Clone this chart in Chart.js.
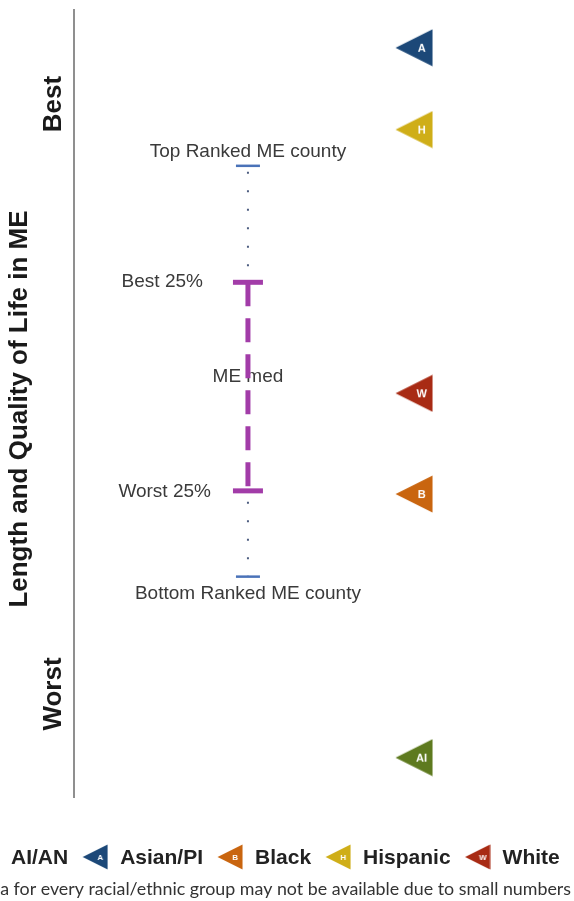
<!DOCTYPE html>
<html>
<head>
<meta charset="utf-8">
<script src="https://cdn.jsdelivr.net/npm/chart.js@4.4.1/dist/chart.umd.min.js"></script>
<style>
  html, body { margin: 0; padding: 0; background: #fff; overflow: hidden; }
  #wrap { width: 574px; height: 901px; }
</style>
</head>
<body>
<div id="wrap"><canvas id="chart" width="574" height="901"></canvas></div>
<script>
// racial/ethnic groups (rank score: 0 = best, 100 = worst)
const groups = ['AI/AN', 'Asian/PI', 'Black', 'Hispanic', 'White'];
const groupCodes = ['AI', 'A', 'B', 'H', 'W'];
const groupScores = [95.0, 4.8, 61.5, 15.2, 48.7];

// state (Maine) county distribution
const stateLabels = ['Top Ranked ME county', 'Best 25%', 'ME med', 'Worst 25%', 'Bottom Ranked ME county'];
const stateValues = [19.8, 34.6, 46.6, 61.1, 72.0];

const axisLabels = ['Best', 'Worst'];
const axisTitle = 'Length and Quality of Life in ME';
const footnote = 'Data for every racial/ethnic group may not be available due to small numbers';

const groupColors = ['#5e7a1f', '#1c4878', '#c9650f', '#cfae18', '#a82b14'];
const RANGE_X = 35.5;
const GROUP_X = 69.4;

// left-pointing triangle with a small letter
function makeMarker(color, code, size) {
    let c = document.createElement('canvas');
    c.width = size;
    c.height = size;
    let g = c.getContext('2d');
    g.fillStyle = color;
    g.beginPath();
    g.moveTo(0.5, size / 2);
    g.lineTo(size - 0.5, 0.5);
    g.lineTo(size - 0.5, size - 0.5);
    g.closePath();
    g.fill();
    g.fillStyle = '#fff';
    g.font = 'bold ' + Math.round(size * 0.29) + 'px "Liberation Sans", Arial';
    g.textAlign = 'center';
    g.textBaseline = 'middle';
    g.fillText(code, size * 0.7, size / 2 + 0.5);
    return c;
}

const markers = groups.map((g, i) => makeMarker(groupColors[i], groupCodes[i], 38));
const legendMarkers = groups.map((g, i) => makeMarker(groupColors[i], groupCodes[i], 26));

const labelsPlugin = {
    id: 'rangeLabels',
    beforeDatasetsDraw(chart) {
        let ctx = chart.ctx;
        let x = chart.scales.x.getPixelForValue(RANGE_X);
        let yy = stateValues.map(v => chart.scales.y.getPixelForValue(v));
        ctx.save();
        ctx.fillStyle = '#3a3a3a';
        ctx.font = '19px "Liberation Sans", Arial';
        ctx.textBaseline = 'middle';
        ctx.textAlign = 'center';
        ctx.fillText(stateLabels[0], x, yy[0] - 14);
        ctx.textAlign = 'right';
        ctx.fillText(stateLabels[1], x - 45, yy[1] - 1);
        ctx.textAlign = 'center';
        ctx.fillText(stateLabels[2], x, yy[2]);
        ctx.textAlign = 'right';
        ctx.fillText(stateLabels[3], x - 37, yy[3] + 1);
        ctx.textAlign = 'center';
        ctx.fillText(stateLabels[4], x, yy[4] + 17);
        ctx.restore();
    },
    afterDraw(chart) {
        let ctx = chart.ctx;
        ctx.save();
        // axis titles
        ctx.fillStyle = '#1a1a1a';
        ctx.font = 'bold 26px "Liberation Sans", Arial';
        ctx.textAlign = 'center';
        ctx.textBaseline = 'middle';
        let drawRot = (text, x, y) => {
            ctx.save();
            ctx.translate(x, y);
            ctx.rotate(-Math.PI / 2);
            ctx.fillText(text, 0, 0);
            ctx.restore();
        };
        drawRot(axisLabels[0], 54, 104);
        drawRot(axisLabels[1], 54, 694);
        drawRot(axisTitle, 20, 409);

        // legend
        let lx = -27;
        let ly = 857;
        ctx.font = 'bold 21px "Liberation Sans", Arial';
        ctx.textAlign = 'left';
        ctx.fillStyle = '#222';
        groups.forEach((g, i) => {
            ctx.drawImage(legendMarkers[i], lx, ly - 13);
            lx += 26 + 12;
            ctx.fillText(g, lx, ly + 1);
            lx += ctx.measureText(g).width + 14;
        });

        // footnote (cut at the left edge)
        ctx.fillStyle = '#333';
        let visible = footnote.slice(3);
        ctx.font = '14px Lato';
        let fs = 14 * 571 / ctx.measureText(visible).width;
        ctx.font = fs.toFixed(2) + 'px Lato';
        ctx.textAlign = 'right';
        ctx.fillText(footnote, 571, 889);
        ctx.restore();
    }
};

const ctx = document.getElementById('chart').getContext('2d');
const chart = new Chart(ctx, {
    type: 'line',
    data: {
        datasets: [
            {
                label: 'groups',
                data: groups.map((g, i) => ({ x: GROUP_X, y: groupScores[i] })),
                showLine: false,
                pointStyle: markers,
                pointRadius: 19,
                pointHoverRadius: 19
            },
            {
                label: 'top/bottom county',
                data: [{ x: RANGE_X, y: stateValues[0] }, { x: RANGE_X, y: stateValues[4] }],
                showLine: false,
                pointStyle: 'line',
                pointRadius: 12,
                pointBorderWidth: 2.5,
                pointBorderColor: '#4a72b8',
                borderColor: '#4a72b8'
            },
            {
                label: 'quartile caps',
                data: [{ x: RANGE_X, y: stateValues[1] }, { x: RANGE_X, y: stateValues[3] }],
                showLine: false,
                pointStyle: 'line',
                pointRadius: 15,
                pointBorderWidth: 5,
                pointBorderColor: '#a23ca8',
                borderColor: '#a23ca8'
            },
            {
                label: 'quartile range',
                data: [{ x: RANGE_X, y: stateValues[1] }, { x: RANGE_X, y: stateValues[3] }],
                borderColor: '#a23ca8',
                borderWidth: 5,
                borderDash: [24, 12],
                pointRadius: 0
            },
            {
                label: 'upper whisker',
                data: [{ x: RANGE_X, y: stateValues[0] }, { x: RANGE_X, y: stateValues[1] }],
                borderColor: '#4d5d80',
                borderWidth: 2,
                borderDash: [2, 16.5],
                borderDashOffset: -6,
                pointRadius: 0
            },
            {
                label: 'lower whisker',
                data: [{ x: RANGE_X, y: stateValues[3] }, { x: RANGE_X, y: stateValues[4] }],
                borderColor: '#4d5d80',
                borderWidth: 2,
                borderDash: [2, 16.5],
                borderDashOffset: -11,
                pointRadius: 0
            }
        ]
    },
    options: {
        responsive: false,
        animation: false,
        events: [],
        layout: { autoPadding: false, padding: { left: 74, top: 10, bottom: 104, right: 10 } },
        plugins: {
            legend: { display: false },
            tooltip: { enabled: false }
        },
        scales: {
            x: { type: 'linear', min: 0, max: 100, display: false },
            y: {
                type: 'linear',
                min: 0,
                max: 100,
                reverse: true,
                grid: { display: false, drawTicks: false },
                ticks: { display: false },
                border: { display: true, color: '#8f8f8f', width: 2 },
                afterFit(scale) { scale.width = 0; }
            }
        }
    },
    plugins: [labelsPlugin]
});
</script>
</body>
</html>
